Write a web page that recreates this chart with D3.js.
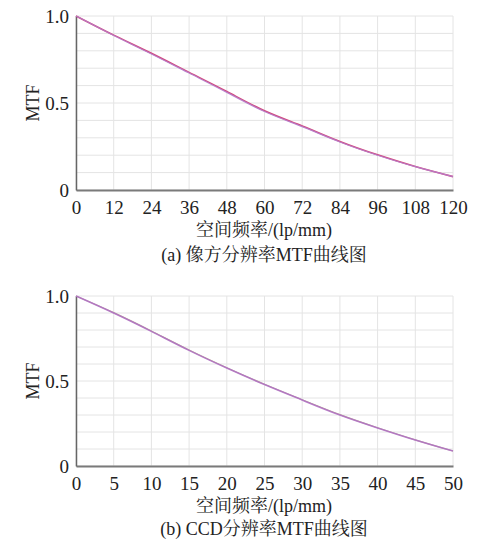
<!DOCTYPE html>
<html><head><meta charset="utf-8">
<script src="https://cdn.jsdelivr.net/npm/d3@7"></script>
<style>body{margin:0;background:#fff}</style>
</head><body>
<svg id="c" width="482" height="542"></svg>
<script>
// Panel (a): image-side resolution MTF
const freqA = [0,12,24,36,48,60,72,84,96,108,120];
const mtfA1 = [1.0,0.890,0.786,0.676,0.566,0.455,0.368,0.279,0.202,0.135,0.077];
const mtfA2 = [1.0,0.888,0.782,0.672,0.561,0.451,0.364,0.276,0.200,0.134,0.077];
const ticksA = [0,12,24,36,48,60,72,84,96,108,120];
// Panel (b): CCD resolution MTF
const freqB = [0,5,10,15,20,25,30,35,40,45,50];
const mtfB1 = [1.0,0.902,0.794,0.682,0.578,0.481,0.390,0.302,0.225,0.154,0.088];
const mtfB2 = [1.0,0.900,0.792,0.680,0.576,0.479,0.388,0.300,0.224,0.153,0.088];
const ticksB = [0,5,10,15,20,25,30,35,40,45,50];
const yTicks = [0,0.5,1.0];
const yTickLabels = ["0","0.5","1.0"];
const gridY = d3.range(0,11).map(i=>i/10);

const svg = d3.select("#c");
const serif = "'Liberation Serif','Times New Roman',serif";
const cjk = "'Liberation Serif','Noto Serif CJK SC','Noto Sans CJK SC',serif";

function panel(o){
  const x = d3.scaleLinear().domain([0,o.xmax]).range([76,453]);
  const y = d3.scaleLinear().domain([0,1]).range([o.bottom,o.top]);
  const g = svg.append("g");
  // grid
  g.selectAll(".gy").data(gridY).enter().append("line")
    .attr("x1",76).attr("x2",453).attr("y1",d=>y(d)).attr("y2",d=>y(d))
    .attr("stroke","#e4e4e4").attr("stroke-width",1);
  g.selectAll(".gx").data(o.ticks).enter().append("line")
    .attr("x1",d=>x(d)).attr("x2",d=>x(d)).attr("y1",o.top).attr("y2",o.bottom)
    .attr("stroke","#e4e4e4").attr("stroke-width",1);
  // axes
  const ax = d3.axisBottom(x).tickValues(o.ticks).tickSize(0).tickPadding(10);
  const gx = g.append("g").attr("transform",`translate(0,${o.bottom})`).call(ax);
  gx.select(".domain").attr("stroke","#7a7a7a").attr("stroke-width",2);
  gx.selectAll("text").attr("font-family",serif).attr("font-size",19).attr("fill","#222").attr("dy","0.75em");
  const ay = d3.axisLeft(y).tickValues(yTicks).tickFormat((d,i)=>yTickLabels[i]).tickSize(0).tickPadding(7);
  const gy = g.append("g").attr("transform","translate(76,0)").call(ay);
  gy.select(".domain").attr("stroke","#666").attr("stroke-width",1.5);
  gy.selectAll("text").attr("font-family",serif).attr("font-size",19).attr("fill","#222");
  // lines
  const line1 = d3.line().x((d,i)=>x(o.xs[i])).y(d=>y(d)).curve(d3.curveNatural);
  g.append("path").datum(o.s1).attr("d",line1).attr("fill","none")
    .attr("stroke",o.c1).attr("stroke-width",o.w1);
  g.append("path").datum(o.s2).attr("d",line1).attr("fill","none")
    .attr("stroke",o.c2).attr("stroke-width",o.w2).attr("opacity",0.9);
  // labels
  g.append("text").attr("transform",`translate(39,${(o.top+o.bottom)/2}) rotate(-90)`)
    .attr("text-anchor","middle").attr("font-family",serif).attr("font-size",18).attr("fill","#222").text("MTF");
  g.append("text").attr("x",264).attr("y",o.titleY).attr("text-anchor","middle")
    .attr("font-family",cjk).attr("font-size",18).attr("fill","#222").text("空间频率/(lp/mm)");
  g.append("text").attr("x",264).attr("y",o.capY).attr("text-anchor","middle")
    .attr("font-family",cjk).attr("font-size",18).attr("fill","#222").text(o.caption);
}
panel({xmax:120,ticks:ticksA,xs:freqA,s1:mtfA1,s2:mtfA2,top:16,bottom:190,titleY:236,capY:261,
  c1:"#d24a7c",c2:"#b57ccc",w1:1.6,w2:1.2,caption:"(a) 像方分辨率MTF曲线图"});
panel({xmax:50,ticks:ticksB,xs:freqB,s1:mtfB1,s2:mtfB2,top:296,bottom:466,titleY:512,capY:535,
  c1:"#b8b090",c2:"#b070c4",w1:1.2,w2:1.6,caption:"(b) CCD分辨率MTF曲线图"});
</script>
</body></html>
